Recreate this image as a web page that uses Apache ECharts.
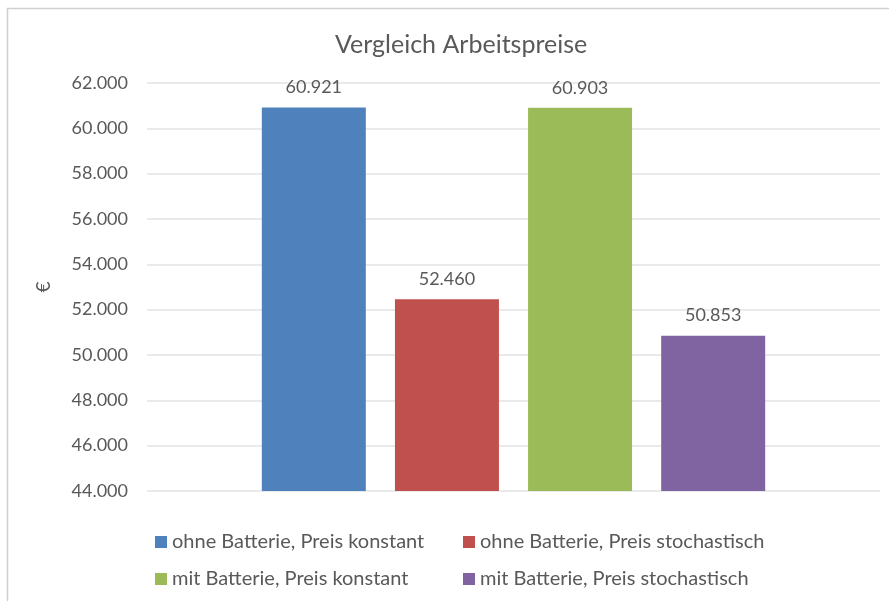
<!DOCTYPE html>
<html>
<head>
<meta charset="utf-8">
<script src="https://cdn.jsdelivr.net/npm/echarts@6/dist/echarts.min.js"></script>
<style>
  html, body { margin: 0; padding: 0; background: #fff; }
  #chart { width: 889px; height: 601px; }
</style>
</head>
<body>
<div id="chart"></div>
<script>
// Daten
const categories = [""];
const seriesNames = [
  "ohne Batterie, Preis konstant",
  "ohne Batterie, Preis stochastisch",
  "mit Batterie, Preis konstant",
  "mit Batterie, Preis stochastisch"
];
const seriesValues = [60921, 52460, 60903, 50853];
const seriesColors = ["#4f81bd", "#c0504d", "#9bbb59", "#8064a2"];
const yTicks = [44000, 62000, 2000]; // min, max, interval

const FONT = "Lato";
const TEXT = "#595959";

// Tausenderpunkt
const fmt = (v) => String(Math.round(v)).replace(/\B(?=(\d{3})+(?!\d))/g, ".");

const chart = echarts.init(document.getElementById("chart"), null, { renderer: "canvas" });

// Legendenpositionen (2 x 2)
const legendPos = [
  { left: 150, top: 527 },
  { left: 458, top: 527 },
  { left: 150, top: 564 },
  { left: 458, top: 564 }
];

chart.setOption({
  backgroundColor: "#fff",
  textStyle: { fontFamily: FONT },
  title: {
    text: "Vergleich Arbeitspreise",
    left: 330,
    top: 27,
    textStyle: { fontFamily: FONT, fontSize: 25, fontWeight: "normal", color: TEXT }
  },
  graphic: [
    {
      type: "polyline",
      shape: { points: [[7.5, 601], [7.5, 8.5], [889, 8.5]] },
      style: { stroke: "#d0d0d0", fill: null, lineWidth: 1.5 },
      silent: true
    }
  ],
  legend: legendPos.map((p, i) => ({
    data: [seriesNames[i]],
    left: p.left,
    top: p.top,
    icon: "rect",
    itemWidth: 12,
    itemHeight: 12,
    itemGap: 6,
    textStyle: { fontFamily: FONT, fontSize: 20, color: TEXT }
  })),
  grid: { left: 147, right: 9, top: 83, bottom: 110, containLabel: false },
  xAxis: {
    type: "category",
    data: categories,
    axisLine: { show: false },
    axisTick: { show: false },
    axisLabel: { show: false },
    splitLine: { show: false }
  },
  yAxis: {
    type: "value",
    min: yTicks[0],
    max: yTicks[1],
    interval: yTicks[2],
    name: "€",
    nameLocation: "middle",
    nameGap: 94,
    nameRotate: 90,
    nameTextStyle: { fontFamily: FONT, fontSize: 19, color: TEXT },
    axisLine: { show: false },
    axisTick: { show: false },
    axisLabel: {
      margin: 19,
      fontFamily: FONT,
      fontSize: 18,
      color: TEXT,
      formatter: fmt
    },
    splitLine: { show: true, lineStyle: { color: "#e3e3e3", width: 1.5 } }
  },
  series: seriesNames.map((name, i) => ({
    name: name,
    type: "bar",
    data: [seriesValues[i]],
    barWidth: 104,
    barGap: "28%",
    itemStyle: { color: seriesColors[i] },
    label: {
      show: true,
      position: "top",
      distance: 11,
      fontFamily: FONT,
      fontSize: 18,
      color: TEXT,
      formatter: (p) => fmt(p.value)
    }
  })),
  animation: false
});
</script>
</body>
</html>
